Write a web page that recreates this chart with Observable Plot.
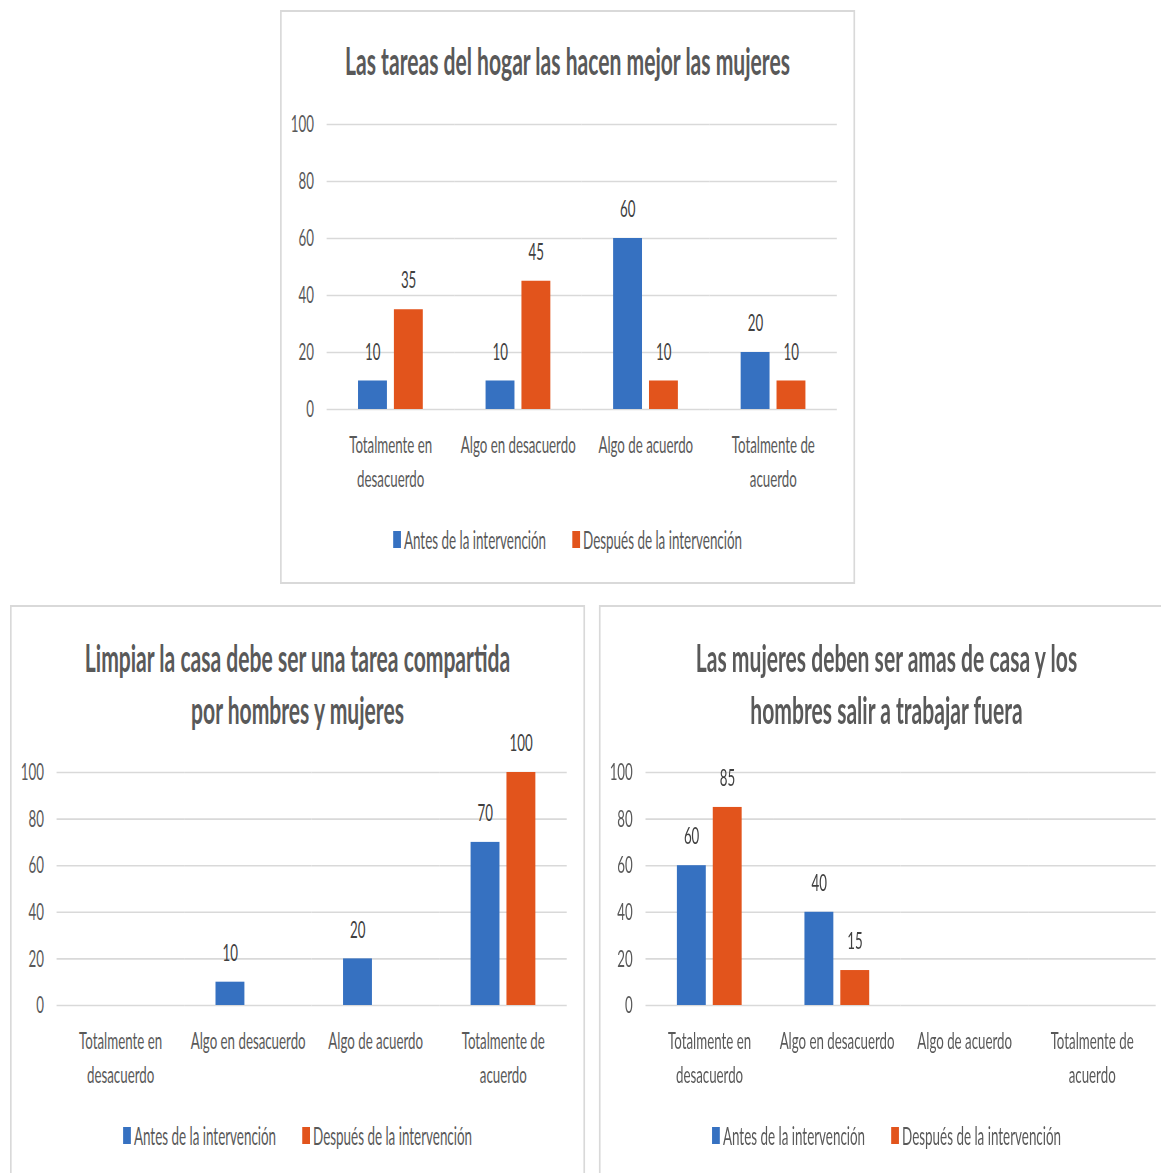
<!DOCTYPE html>
<html><head><meta charset="utf-8">
<script src="https://cdn.jsdelivr.net/npm/d3@7"></script>
<script src="https://cdn.jsdelivr.net/npm/@observablehq/plot@0.6"></script>
<style>
html,body{margin:0;padding:0;background:#fff;overflow:hidden;width:1161px;height:1173px}
#stage{position:absolute;left:0;top:0;height:1173px;transform-origin:0 0;font-family:Lato,sans-serif;color:#595959}
.panel{position:absolute;box-sizing:border-box;border-style:solid;border-color:#d9d9d9;background:#fff}
.title{position:absolute;left:0;right:0;text-align:center;font-weight:bold;font-size:38px;line-height:52px;color:#595959;white-space:nowrap}
.legend{position:absolute;left:0;right:0;display:flex;justify-content:center;align-items:center;font-size:24.2px;height:34px;white-space:nowrap;color:#595959}
.sw{display:inline-block;height:17px}
.plotwrap{position:absolute;left:0}
</style></head>
<body><div id="stage"></div>
<script>
// ---- data ----
const categories = ["Totalmente en desacuerdo", "Algo en desacuerdo", "Algo de acuerdo", "Totalmente de acuerdo"];
const categoryLabels = ["Totalmente en\ndesacuerdo", "Algo en desacuerdo", "Algo de acuerdo", "Totalmente de\nacuerdo"];
const series = ["Antes de la intervención", "Después de la intervención"];
const seriesColors = ["#3671C1", "#E2541C"];
const yTicks = [0, 20, 40, 60, 80, 100];

const title1 = ["Las tareas del hogar las hacen mejor las mujeres"];
const antes1 = [10, 10, 60, 20];
const despues1 = [35, 45, 10, 10];

const title2 = ["Limpiar la casa debe ser una tarea compartida", "por hombres y mujeres"];
const antes2 = [0, 10, 20, 70];
const despues2 = [0, 0, 0, 100];

const title3 = ["Las mujeres deben ser amas de casa y los", "hombres salir a trabajar fuera"];
const antes3 = [60, 40, 0, 0];
const despues3 = [85, 15, 0, 0];

// ---- horizontal condensation (reference text is strongly condensed) ----
const ctx = document.createElement("canvas").getContext("2d");
ctx.font = "24px Lato";
const s = 115 / ctx.measureText("Algo en desacuerdo").width;
const X = v => v / s;
const stage = document.getElementById("stage");
stage.style.width = X(1161) + "px";
stage.style.transform = `scaleX(${s})`;

function makePanel({left, top, width, height, titleLines, titleTop, antes, despues, plotTop, plotHeight, legendTop}) {
  const p = document.createElement("div");
  p.className = "panel";
  p.style.left = X(left) + "px";
  p.style.top = top + "px";
  p.style.width = X(width) + "px";
  p.style.height = height + "px";
  p.style.borderWidth = `2px ${X(2)}px`;
  stage.appendChild(p);

  const t = document.createElement("div");
  t.className = "title";
  t.style.top = titleTop + "px";
  t.innerHTML = titleLines.join("<br>");
  p.appendChild(t);

  const data = categories.flatMap((c, i) => [
    {cat: c, series: series[0], value: antes[i]},
    {cat: c, series: series[1], value: despues[i]}
  ]);

  const chart = Plot.plot({
    width: X(width) - 2 * X(2),
    height: 50 + plotHeight + 100,
    marginLeft: X(44), marginRight: X(15), marginTop: 50, marginBottom: 100,
    style: {fontFamily: "Lato, sans-serif", fontSize: "24px", color: "#595959", background: "transparent", overflow: "visible"},
    fx: {domain: categories, padding: 0, label: null},
    x: {domain: series, axis: null, paddingInner: 7 / 36, paddingOuter: 0.875, round: false},
    y: {domain: [0, 100], label: null},
    color: {domain: series, range: seriesColors},
    marks: [
      Plot.ruleY(yTicks, {stroke: "#d9d9d9", strokeWidth: 1.6}),
      Plot.barY(data, {fx: "cat", x: "series", y: "value", fill: "series"}),
      Plot.text(data.filter(d => d.value > 0), {fx: "cat", x: "series", y: "value", text: d => String(d.value), dy: -29, fill: "#404040", fontSize: 24}),
      Plot.axisY({ticks: yTicks, tickSize: 0, tickPadding: X(13), facetAnchor: "left", label: null, fontSize: 24}),
      Plot.axisFx({anchor: "bottom", tickSize: 0, tickPadding: 19, lineHeight: 34 / 24, tickFormat: d => categoryLabels[categories.indexOf(d)], label: null, fontSize: 24})
    ]
  });
  const w = document.createElement("div");
  w.className = "plotwrap";
  w.style.top = plotTop + "px";
  w.appendChild(chart);
  p.appendChild(w);

  const lg = document.createElement("div");
  lg.className = "legend";
  lg.style.top = legendTop + "px";
  series.forEach((name, i) => {
    const item = document.createElement("span");
    item.style.display = "inline-flex";
    item.style.alignItems = "center";
    if (i > 0) item.style.marginLeft = X(26) + "px";
    const sw = document.createElement("span");
    sw.className = "sw";
    sw.style.width = X(8) + "px";
    sw.style.marginRight = X(3) + "px";
    sw.style.background = seriesColors[i];
    item.appendChild(sw);
    item.appendChild(document.createTextNode(name));
    lg.appendChild(item);
  });
  p.appendChild(lg);
}

makePanel({left: 280, top: 10, width: 575, height: 574, titleLines: title1, titleTop: 22,
  antes: antes1, despues: despues1, plotTop: 62, plotHeight: 285, legendTop: 510});
makePanel({left: 10, top: 605, width: 575, height: 620, titleLines: title2, titleTop: 24,
  antes: antes2, despues: despues2, plotTop: 115, plotHeight: 233, legendTop: 511});
makePanel({left: 599, top: 605, width: 575, height: 620, titleLines: title3, titleTop: 24,
  antes: antes3, despues: despues3, plotTop: 115, plotHeight: 233, legendTop: 511});
</script>
</body></html>
